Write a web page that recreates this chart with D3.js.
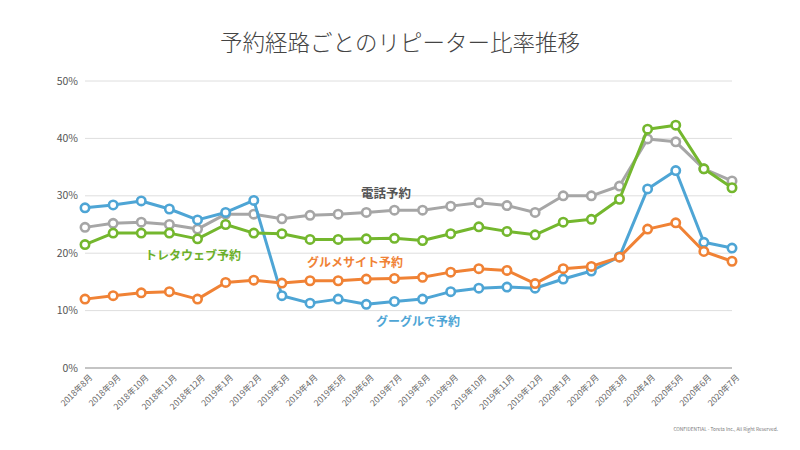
<!DOCTYPE html>
<html><head><meta charset="utf-8">
<script src="https://cdn.jsdelivr.net/npm/d3@7"></script>
<style>body{margin:0;background:#fff}svg{display:block}</style>
</head><body><svg id="c" width="800" height="450"></svg>
<script>
const months = ["2018年8月","2018年9月","2018年10月","2018年11月","2018年12月","2019年1月","2019年2月","2019年3月","2019年4月","2019年5月","2019年6月","2019年7月","2019年8月","2019年9月","2019年10月","2019年11月","2019年12月","2020年1月","2020年2月","2020年3月","2020年4月","2020年5月","2020年6月","2020年7月"];
const phone  = [24.5,25.2,25.4,25.0,24.2,26.8,26.8,26.0,26.6,26.8,27.1,27.5,27.5,28.2,28.8,28.3,27.1,30.0,30.0,31.7,39.9,39.4,34.7,32.6];
const google = [27.9,28.4,29.1,27.7,25.8,27.1,29.2,12.6,11.3,12.0,11.1,11.6,12.0,13.3,13.9,14.1,13.9,15.5,16.9,19.4,31.2,34.4,21.9,20.9];
const web    = [21.5,23.5,23.5,23.5,22.5,25.0,23.5,23.4,22.4,22.4,22.5,22.6,22.2,23.4,24.6,23.8,23.2,25.4,25.9,29.4,41.6,42.3,34.7,31.4];
const gourmet= [12.0,12.6,13.1,13.3,12.0,14.9,15.3,14.8,15.2,15.2,15.5,15.6,15.8,16.7,17.3,17.0,14.7,17.3,17.7,19.3,24.2,25.3,20.3,18.6];
const yTicks = [0,10,20,30,40,50];
const seriesNames = ["電話予約","グーグルで予約","トレタウェブ予約","グルメサイト予約"];
const title = "予約経路ごとのリピーター比率推移";
const footer = "CONFIDENTIAL - Toreta Inc., All Right Reserved.";

const svg = d3.select("#c");
const font = "'Noto Sans CJK JP','Noto Sans',sans-serif";
const x = d3.scalePoint().domain(months).range([85,732]);
const y = d3.scaleLinear().domain([0,50]).range([368,81]);

svg.append("text").attr("x",400).attr("y",51).attr("text-anchor","middle")
  .attr("font-family",font).attr("font-size",22.5).attr("font-weight",300).attr("fill","#444").text(title);

// grid
svg.append("g").selectAll("line").data(yTicks.filter(d=>d>0)).join("line")
  .attr("x1",85).attr("x2",732).attr("y1",d=>y(d)).attr("y2",d=>y(d))
  .attr("stroke","#dedede").attr("stroke-width",1);
svg.append("line").attr("x1",85).attr("x2",732).attr("y1",y(0)).attr("y2",y(0))
  .attr("stroke","#8a8a8a").attr("stroke-width",1.2);

// y labels
svg.append("g").selectAll("text").data(yTicks).join("text")
  .attr("x",78).attr("y",d=>y(d)).attr("dy","0.35em").attr("text-anchor","end")
  .attr("font-family",font).attr("font-size",10.5).attr("fill","#555").text(d=>d+"%");

// x labels
svg.append("g").selectAll("text").data(months).join("text")
  .attr("transform",d=>`translate(${x(d)+6},${376}) rotate(-45)`)
  .attr("text-anchor","end").attr("dy","0.35em")
  .attr("font-family",font).attr("font-size",8.5).attr("fill","#666").text(d=>d);

const series = [
  {name:seriesNames[0], vals:phone, color:"#a6a6a6", lx:386, ly:194, lc:"#555", fs:12.5},
  {name:seriesNames[1], vals:google, color:"#4ea5d5", lx:418, ly:322, lc:"#4ea5d5", fs:12},
  {name:seriesNames[2], vals:web, color:"#74b72e", lx:193, ly:256, lc:"#6cb02a", fs:12},
  {name:seriesNames[3], vals:gourmet, color:"#f08235", lx:355, ly:263, lc:"#f08235", fs:12}
];
const line = d3.line().x((d,i)=>x(months[i])).y(d=>y(d));
series.forEach(s=>{
  const g = svg.append("g");
  g.append("path").attr("d",line(s.vals)).attr("fill","none").attr("stroke",s.color)
    .attr("stroke-width",3).attr("stroke-linejoin","round");
  g.selectAll("circle").data(s.vals).join("circle")
    .attr("cx",(d,i)=>x(months[i])).attr("cy",d=>y(d)).attr("r",4.2)
    .attr("fill","#fff").attr("stroke",s.color).attr("stroke-width",2.6);
});
series.forEach(s=>{
  svg.append("text").attr("x",s.lx).attr("y",s.ly).attr("dy","0.35em").attr("text-anchor","middle")
    .attr("font-family",font).attr("font-size",s.fs).attr("font-weight",700).attr("fill",s.lc).text(s.name);
});

svg.append("text").attr("x",778).attr("y",431).attr("text-anchor","end")
  .attr("font-family",font).attr("font-size",4.8).attr("fill","#777").text(footer);
</script></body></html>
